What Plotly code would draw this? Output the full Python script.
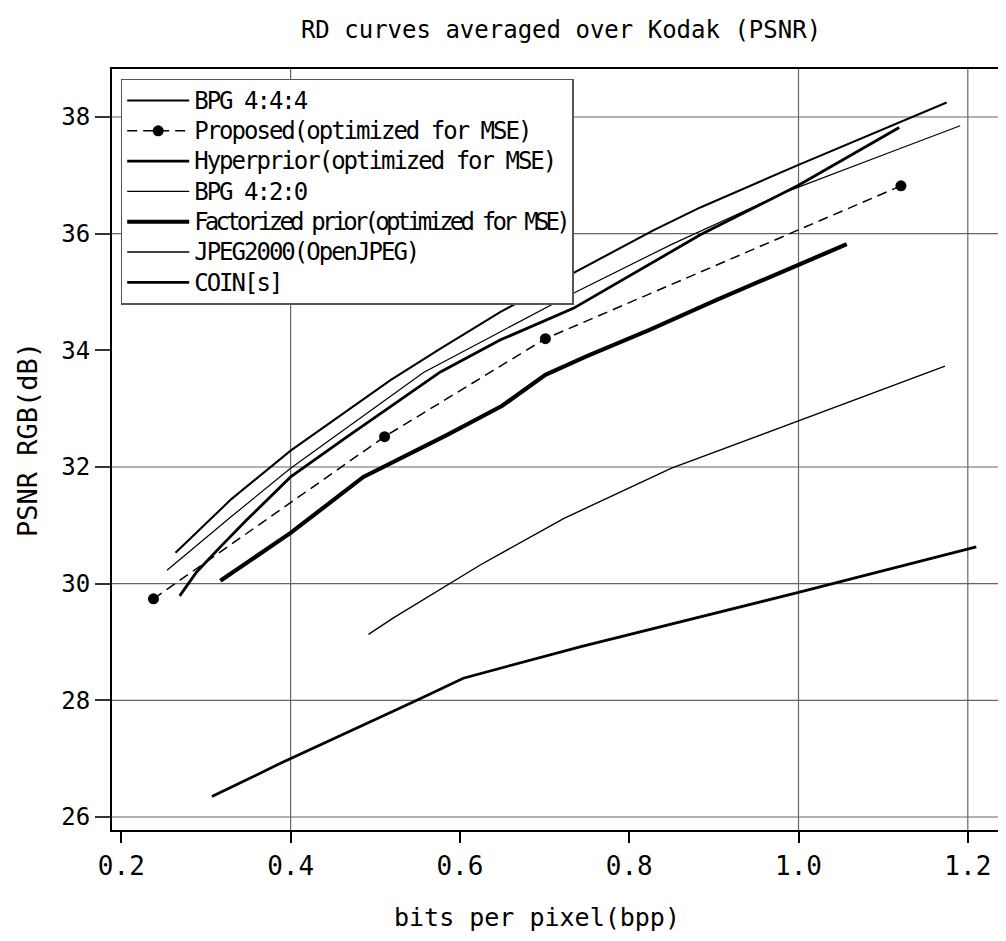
import plotly.graph_objects as go

# ---- data (bpp, PSNR dB) ----
bpp_bpg444 = [0.264, 0.33, 0.40, 0.518, 0.577, 0.648, 0.829, 0.884, 1.0, 1.175]
psnr_bpg444 = [30.53, 31.45, 32.28, 33.49, 34.03, 34.66, 36.06, 36.45, 37.18, 38.25]

bpp_proposed = [0.238, 0.511, 0.701, 1.121]
psnr_proposed = [29.74, 32.52, 34.20, 36.82]

bpp_hyper = [0.269, 0.289, 0.317, 0.348, 0.40, 0.467, 0.577, 0.648, 0.734, 0.852, 0.884, 1.0, 1.119]
psnr_hyper = [29.79, 30.20, 30.63, 31.09, 31.83, 32.52, 33.63, 34.18, 34.72, 35.72, 35.98, 36.83, 37.82]

bpp_bpg420 = [0.254, 0.33, 0.40, 0.557, 0.648, 0.734, 0.852, 0.986, 1.12, 1.191]
psnr_bpg420 = [30.23, 31.15, 31.98, 33.62, 34.32, 34.98, 35.83, 36.72, 37.46, 37.85]

bpp_factorized = [0.317, 0.40, 0.486, 0.585, 0.65, 0.701, 0.75, 0.824, 0.904, 1.0, 1.057]
psnr_factorized = [30.05, 30.87, 31.83, 32.55, 33.05, 33.58, 33.90, 34.35, 34.87, 35.46, 35.82]

bpp_jpeg2000 = [0.492, 0.521, 0.624, 0.723, 0.85, 1.0, 1.131, 1.173]
psnr_jpeg2000 = [29.13, 29.41, 30.32, 31.12, 31.98, 32.79, 33.49, 33.73]

bpp_coin = [0.307, 0.388, 0.546, 0.604, 0.743, 1.0, 1.21]
psnr_coin = [26.35, 26.92, 27.98, 28.38, 28.92, 29.85, 30.63]

# gridlines that survive in the scanned figure
grid_x = [0.4, 1.0, 1.2]
grid_y = [26, 28, 30, 32, 36, 38]

MONO = "DejaVu Sans Mono"
INK = "#000000"
GRID = "#666666"

# page body has an 8px margin, so keep the figure inside the window
W, H = 990, 933
X_MAX = 0.189 + (W - 104) / 846.5   # keeps 846.5 px per bpp unit


def label(text, spacing=-2):
    # taller, condensed look of the original legend font
    return f'<span style="font-size:24px;letter-spacing:{spacing}px">{text}</span>'


series = [
    ("BPG 4:4:4", bpp_bpg444, psnr_bpg444, 2.1, "solid", -2),
    ("Proposed(optimized for MSE)", bpp_proposed, psnr_proposed, 1.5, "10px,6px", -2),
    ("Hyperprior(optimized for MSE)", bpp_hyper, psnr_hyper, 2.8, "solid", -2),
    ("BPG 4:2:0", bpp_bpg420, psnr_bpg420, 1.2, "solid", -2),
    ("Factorized prior(optimized for MSE)", bpp_factorized, psnr_factorized, 4.2, "solid", -3.8),
    ("JPEG2000(OpenJPEG)", bpp_jpeg2000, psnr_jpeg2000, 1.4, "solid", -2),
    ("COIN[s]", bpp_coin, psnr_coin, 2.7, "solid", -2),
]

fig = go.Figure()
for name, xs, ys, width, dash, sp in series:
    is_prop = name.startswith("Proposed")
    fig.add_trace(go.Scatter(
        x=xs, y=ys, name=label(name, sp),
        mode="lines+markers" if is_prop else "lines",
        line=dict(color=INK, width=width, dash=dash),
        marker=dict(size=11, color=INK) if is_prop else None,
    ))

for gx in grid_x:
    fig.add_shape(type="line", xref="x", yref="paper", x0=gx, x1=gx, y0=0, y1=1,
                  line=dict(color=GRID, width=1.2), layer="below")
for gy in grid_y:
    fig.add_shape(type="line", xref="paper", yref="y", x0=0, x1=1, y0=gy, y1=gy,
                  line=dict(color=GRID, width=1.2), layer="below")

# axis titles as annotations (the x title sits left of the plot centre)
fig.add_annotation(text="bits per pixel(bpp)", xref="paper", yref="paper",
                   x=(537 - 112) / (W - 104), y=-0.1156, xanchor="center", yanchor="middle",
                   showarrow=False, font=dict(size=25, family=MONO, color=INK))
fig.add_annotation(text="PSNR RGB(dB)", xref="paper", yref="paper", textangle=-90,
                   x=-84 / (W - 104), y=0.5125, xanchor="center", yanchor="middle",
                   showarrow=False, font=dict(size=27, family=MONO, color=INK))

fig.update_layout(
    width=W, height=H,
    margin=dict(l=104, r=0, t=61, b=H - 822),
    paper_bgcolor="white", plot_bgcolor="white",
    font=dict(family=MONO, color=INK, size=24),
    title=dict(text="RD curves averaged over Kodak (PSNR)",
               x=(561 - 8) / W, xref="container", xanchor="center",
               y=1 - 22 / H, yanchor="middle", font=dict(size=24, family=MONO)),
    showlegend=True,
    legend=dict(
        x=8.7 / (W - 104), y=0.987, xanchor="left", yanchor="top",
        bgcolor="white", bordercolor="#555555", borderwidth=1.5,
        font=dict(family=MONO, size=21, color=INK),
        itemwidth=62, tracegroupgap=0,
    ),
    xaxis=dict(
        range=[0.189, X_MAX], dtick=0.2, tick0=0.2, tickformat=".1f",
        showgrid=False, zeroline=False,
        showline=True, linecolor=INK, linewidth=2, mirror=True,
        ticks="outside", ticklen=11, tickwidth=1.5, tickcolor=INK,
        ticklabelstandoff=1,
        tickfont=dict(size=26, family=MONO),
    ),
    yaxis=dict(
        range=[25.777, 38.823], dtick=2, tick0=26,
        showgrid=False, zeroline=False,
        showline=True, linecolor=INK, linewidth=2, mirror=False,
        ticks="outside", ticklen=15, tickwidth=1.5, tickcolor="#333333",
        ticklabelstandoff=0,
        tickfont=dict(size=24, family=MONO),
    ),
)

fig.write_html("out.html")
